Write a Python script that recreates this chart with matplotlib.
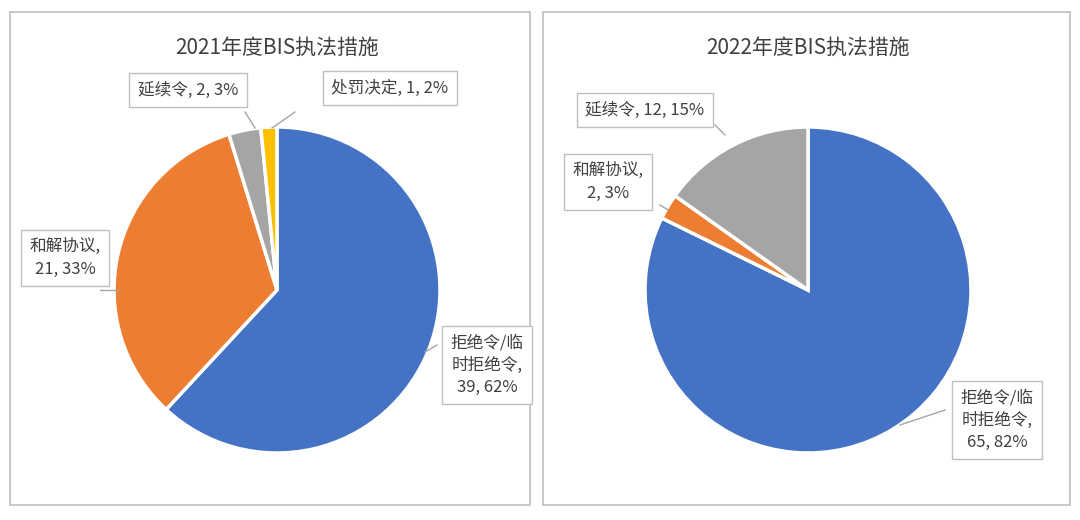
import numpy as np
import matplotlib
matplotlib.use("Agg")
import matplotlib.pyplot as plt
from matplotlib.patches import Rectangle

plt.rcParams["font.family"] = ["Noto Sans CJK SC", "DejaVu Sans"]

titles = ["2021年度BIS执法措施", "2022年度BIS执法措施"]
cats_2021 = ["拒绝令/临\n时拒绝令", "和解协议", "延续令", "处罚决定"]
vals_2021 = [39, 21, 2, 1]
pcts_2021 = [62, 33, 3, 2]
cats_2022 = ["拒绝令/临\n时拒绝令", "和解协议", "延续令"]
vals_2022 = [65, 2, 12]
pcts_2022 = [82, 3, 15]
colors = ["#4472C4", "#ED7D31", "#A5A5A5", "#FFC000"]

fig = plt.figure(figsize=(10.8, 5.2), dpi=100)
ax = fig.add_axes([0, 0, 1, 1])
ax.set_xlim(0, 1080)
ax.set_ylim(520, 0)
ax.axis("off")

# panel frames
for x0, x1 in [(10, 530), (543, 1070)]:
    ax.add_patch(Rectangle((x0, 12), x1 - x0, 493, fill=False, ec="#BFBFBF", lw=1.2))

def draw(cx, title, vals, pcts, cats, labels_pos):
    r = 163
    wedges, _ = ax.pie(vals, colors=colors[:len(vals)], startangle=90, counterclock=False,
                       center=(cx, 290), radius=r,
                       wedgeprops=dict(edgecolor="white", linewidth=2.5))
    # pie drawn in y-down axes: flip by mirroring angles -> redraw manually instead
    ax.text(cx, 48, title, ha="center", va="center", fontsize=15, color="#404040")
    for w, c, v, p, (lx, ly, ax_, ay_) in zip(wedges, cats, vals, pcts, labels_pos):
        txt = c.replace("\n", "\n", 1)
        label = "%s, %d, %d%%" % (c, v, p) if "\n" not in c else "%s,\n%d, %d%%" % (c, v, p)
        if c == "和解协议" and "\n" in str(labels_pos):
            pass
        ax.text(lx, ly, label, ha="center", va="center", fontsize=12, color="#404040",
                linespacing=1.4,
                bbox=dict(boxstyle="square,pad=0.5", fc="white", ec="#BFBFBF", lw=1))
        ax.plot([ax_[0], ay_[0]], [ax_[1], ay_[1]], color="#A6A6A6", lw=1)
    ax.set_xlim(0, 1080)
    ax.set_ylim(520, 0)
    ax.set_aspect("auto")

# since y axis is inverted, clockwise in data = counterclockwise on screen; use counterclock=True
def draw_pie(cx, title, vals, pcts, cats, boxes, lines):
    r = 163
    ax.pie(vals, colors=colors[:len(vals)], startangle=-90, counterclock=True,
           center=(cx, 290), radius=r, frame=True,
           wedgeprops=dict(edgecolor="white", linewidth=2.5))
    ax.text(cx, 48, title, ha="center", va="center", fontsize=15, color="#404040")
    for c, v, p, (lx, ly), ln in zip(cats, vals, pcts, boxes, lines):
        if "\n" in c or c == "和解协议" and (lx < 200 or cx > 600):
            label = "%s,\n%d, %d%%" % (c, v, p)
        else:
            label = "%s, %d, %d%%" % (c, v, p)
        ax.text(lx, ly, label, ha="center", va="center", fontsize=12, color="#404040",
                linespacing=1.4,
                bbox=dict(boxstyle="square,pad=0.5", fc="white", ec="#BFBFBF", lw=1))
        ax.plot([ln[0], ln[2]], [ln[1], ln[3]], color="#A6A6A6", lw=1)

draw_pie(277, titles[0], vals_2021, pcts_2021, cats_2021,
         [(487, 365), (65, 258), (188, 90), (390, 88)],
         [(437, 345, 425, 352), (100, 290, 118, 290), (245, 112, 255, 128), (295, 112, 272, 128)])
draw_pie(808, titles[1], vals_2022, pcts_2022, cats_2022,
         [(997, 420), (608, 182), (645, 110)],
         [(945, 410, 900, 425), (660, 205, 668, 210), (715, 125, 725, 135)])

ax.set_xlim(0, 1080)
ax.set_ylim(520, 0)
ax.set_aspect("auto")
ax.axis("off")
fig.savefig("out.png", dpi=100)
